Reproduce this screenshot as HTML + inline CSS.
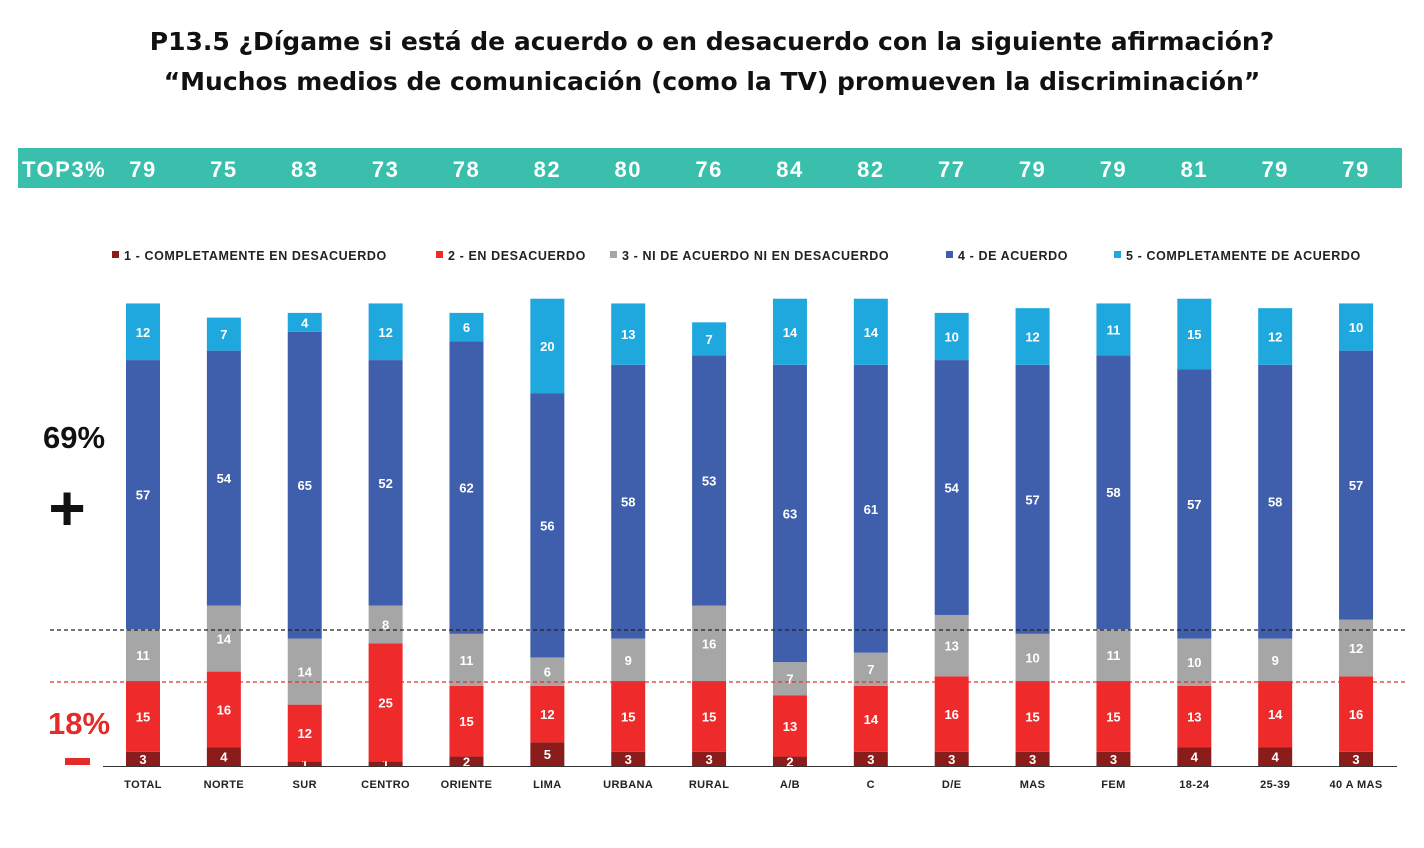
<!DOCTYPE html>
<html><head><meta charset="utf-8"><style>
body{margin:0;background:#fff;width:1424px;height:848px;overflow:hidden;font-family:"Liberation Sans",sans-serif}
.t{position:absolute;left:0;width:1424px;text-align:center;font-weight:bold;font-size:25px;color:#111;font-family:"DejaVu Sans",sans-serif}
</style></head><body>
<div class="t" style="top:27px">P13.5 ¿Dígame si está de acuerdo o en desacuerdo con la siguiente afirmación?</div>
<div class="t" style="top:67px">“Muchos medios de comunicación (como la TV) promueven la discriminación”</div>
<div style="position:absolute;left:18px;top:148px;width:1384px;height:40px;background:#3bbfad"></div>
<svg id="c" width="1424" height="848" style="position:absolute;left:0;top:0"></svg>
<script>
const categories=["TOTAL","NORTE","SUR","CENTRO","ORIENTE","LIMA","URBANA","RURAL","A/B","C","D/E","MAS","FEM","18-24","25-39","40 A MAS"];
const top3=[79,75,83,73,78,82,80,76,84,82,77,79,79,81,79,79];
const s1=[3,4,1,1,2,5,3,3,2,3,3,3,3,4,4,3];
const s2=[15,16,12,25,15,12,15,15,13,14,16,15,15,13,14,16];
const s3=[11,14,14,8,11,6,9,16,7,7,13,10,11,10,9,12];
const s4=[57,54,65,52,62,56,58,53,63,61,54,57,58,57,58,57];
const s5=[12,7,4,12,6,20,13,7,14,14,10,12,11,15,12,10];
const series=[s1,s2,s3,s4,s5];
const names=["1 - COMPLETAMENTE EN DESACUERDO","2 - EN DESACUERDO","3 - NI DE ACUERDO NI EN DESACUERDO","4 - DE ACUERDO","5 - COMPLETAMENTE DE ACUERDO"];
const colors=["#8b1c1c","#ee2a2a","#a6a6a6","#3f5fad","#1fa8de"];
const svg=document.getElementById('c');const NS="http://www.w3.org/2000/svg";
function mk(t,a,txt){const e=document.createElementNS(NS,t);for(const k in a)e.setAttribute(k,a[k]);if(txt!==undefined)e.textContent=txt;svg.appendChild(e);return e;}
const base=766,k=4.72,x0=143,dx=80.87,bw=34;
const X=i=>x0+i*dx, Y=v=>base-v*k;
let e=mk('text',{x:22,y:177,fill:'#fff','font-size':22,'font-weight':'bold','letter-spacing':'1.5'},'TOP3%');


top3.forEach((v,i)=>{const t=mk('text',{x:X(i),y:177,fill:'#fff','font-size':22,'font-weight':'bold','text-anchor':'middle','letter-spacing':'1.5'},v);

});
const lx=[112,436,610,946,1114];
names.forEach((n,j)=>{const r=mk('rect',{x:lx[j],y:251,width:7,height:7,fill:colors[j]});


const t=mk('text',{x:lx[j]+12,y:260,'font-size':12.5,'font-weight':'bold',fill:'#222','letter-spacing':'0.6'},n);

});
categories.forEach((c,i)=>{let cum=0;series.forEach((s,j)=>{const v=s[i];const y1=Y(cum+v),y0=Y(cum);
const r=mk('rect',{x:X(i)-bw/2,y:y1,width:bw,height:y0-y1,fill:colors[j]});


const t=mk('text',{x:X(i),y:(y0+y1)/2+5,'font-size':13,'font-weight':'bold',fill:'#fff','text-anchor':'middle'},v);


cum+=v;});
const l=mk('text',{x:X(i),y:788,'font-size':11,'font-weight':'bold',fill:'#222','text-anchor':'middle','letter-spacing':'0.4'},c);

});
e=mk('line',{x1:103,x2:1397,y1:766.5,y2:766.5,stroke:'#333','stroke-width':1});


e=mk('line',{x1:50,x2:1405,y1:630,y2:630,stroke:'#222','stroke-width':1.3,'stroke-dasharray':'4,3'});


e=mk('line',{x1:50,x2:1405,y1:682,y2:682,stroke:'#e03030','stroke-width':1.3,'stroke-dasharray':'4,3'});


e=mk('text',{x:74,y:448,'font-size':31,'font-weight':'bold',fill:'#111','text-anchor':'middle'},'69%');


e=mk('text',{x:67,y:530,'font-size':64,'font-weight':'bold',fill:'#111','text-anchor':'middle'},'+');


e=mk('text',{x:79,y:734,'font-size':31,'font-weight':'bold',fill:'#e52a2a','text-anchor':'middle'},'18%');


e=mk('rect',{x:65,y:758,width:25,height:7,fill:'#e52a2a'});


</script>
</body></html>
